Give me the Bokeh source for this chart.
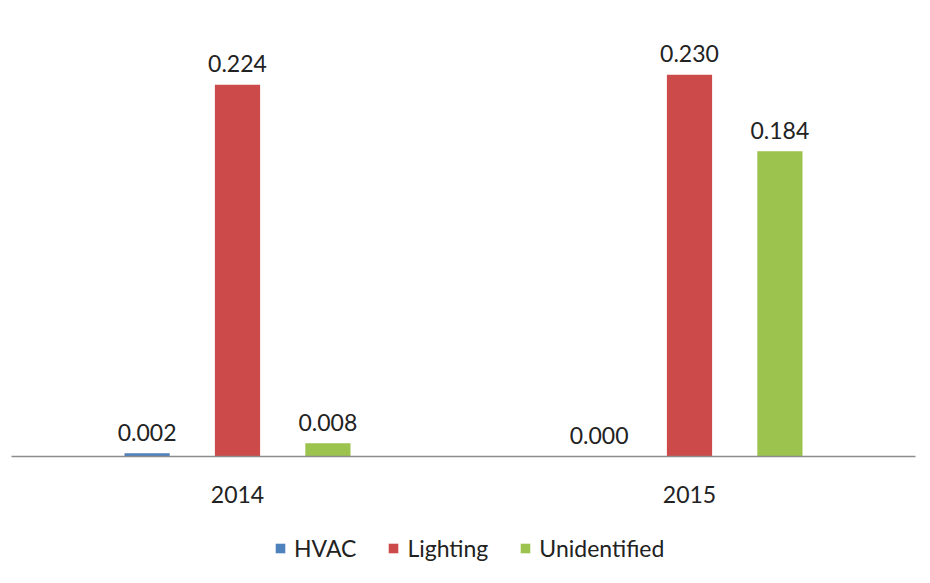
from bokeh.plotting import figure
from bokeh.layouts import column
from bokeh.models import ColumnDataSource, FactorRange, Legend, LegendItem, Range1d
from bokeh.transform import dodge
from bokeh.core.properties import value
from bokeh.embed import file_html
from bokeh.resources import INLINE

years = ["2014", "2015"]
series = ["HVAC", "Lighting", "Unidentified"]
hvac = [0.002, 0.000]
lighting = [0.224, 0.230]
unidentified = [0.008, 0.184]
colors = ["#4F81BD", "#CC4A4A", "#9DC34F"]

FONT = "Lato"

src = ColumnDataSource(dict(
    years=years, HVAC=hvac, Lighting=lighting, Unidentified=unidentified,
    HVAC_t=[f"{v:.3f}" for v in hvac],
    Lighting_t=[f"{v:.3f}" for v in lighting],
    Unidentified_t=[f"{v:.3f}" for v in unidentified],
))

p = figure(width=930, height=526, x_range=FactorRange(*years),
           y_range=Range1d(0, 0.2748), output_backend="svg",
           toolbar_location=None, min_border_left=11, min_border_right=15,
           min_border_top=0, min_border_bottom=70)
p.x_range.range_padding = 0
p.outline_line_color = None
p.background_fill_color = "white"
p.border_fill_color = "white"
p.grid.visible = False
p.yaxis.visible = False

offsets = [-0.2, 0.0, 0.2]
for s, c, off in zip(series, colors, offsets):
    p.vbar(x=dodge("years", off, range=p.x_range), top=s, width=0.1,
           source=src, fill_color=c, line_color=None)
    p.text(x=dodge("years", off, range=p.x_range), y=s, text=s + "_t",
           source=src, text_align="center", text_baseline="alphabetic",
           y_offset=-21, text_font=value(FONT), text_font_size="23px",
           text_color="#222222")

ax = p.xaxis[0]
ax.axis_line_color = "#8C8C8C"
ax.axis_line_width = 1.5
ax.major_tick_line_color = None
ax.minor_tick_line_color = None
ax.major_label_standoff = 23
ax.major_label_text_font = FONT
ax.major_label_text_font_size = "23px"
ax.major_label_text_color = "#222222"

# Legend strip below the chart (same series, bars kept outside its view)
lf = figure(width=930, height=57, x_range=FactorRange(*years),
            y_range=Range1d(1, 2), output_backend="svg",
            toolbar_location=None, min_border=0)
lf.axis.visible = False
lf.grid.visible = False
lf.outline_line_color = None
items = []
for s, c in zip(series, colors):
    r = lf.vbar(x="years", top=s, width=0.1, source=src,
                fill_color=c, line_color=None)
    items.append(LegendItem(label=s, renderers=[r]))

legend = Legend(items=items, orientation="horizontal", location=(263, 21),
                label_text_font=FONT, label_text_font_size="23px",
                label_text_color="#222222", glyph_width=12, glyph_height=12,
                spacing=31, label_standoff=8, border_line_color=None,
                background_fill_alpha=0, margin=0, padding=4)
lf.add_layout(legend, "center")

layout = column(p, lf, spacing=0)
open("out.html", "w").write(file_html(layout, INLINE))
